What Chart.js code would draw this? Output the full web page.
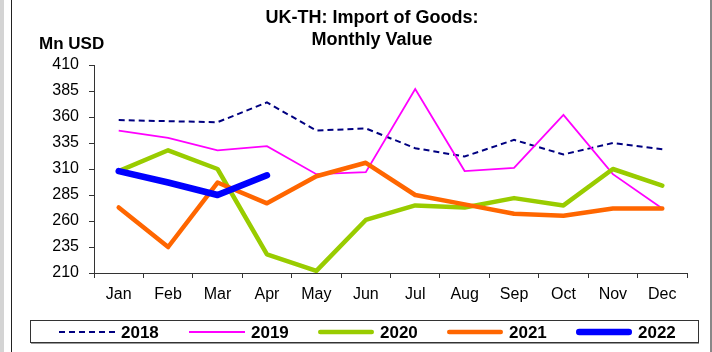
<!DOCTYPE html>
<html>
<head>
<meta charset="utf-8">
<script src="https://cdn.jsdelivr.net/npm/chart.js@4/dist/chart.umd.min.js"></script>
<style>
  html, body { margin: 0; padding: 0; background: #fff; }
  #wrap { width: 712px; height: 352px; position: relative; }
</style>
</head>
<body>
<div id="wrap"><canvas id="chart1" width="712" height="352"></canvas></div>
<script>
// monthly import values, Mn USD
const months = ['Jan', 'Feb', 'Mar', 'Apr', 'May', 'Jun', 'Jul', 'Aug', 'Sep', 'Oct', 'Nov', 'Dec'];
const yTicks = [210, 235, 260, 285, 310, 335, 360, 385, 410];

const v2018 = [357, 356, 355, 374, 347, 349, 330, 322, 338, 324, 335, 329];
const v2019 = [347, 340, 328, 332, 305, 307, 387, 308, 311, 362, 305, 272];
const v2020 = [308, 328, 310, 228, 212, 261, 275, 273, 282, 275, 310, 294];
const v2021 = [273, 235, 297, 277, 303, 316, 285, 276, 267, 265, 272, 272];
const v2022 = [308, 297, 285, 304];

const seriesNames = ['2018', '2019', '2020', '2021', '2022'];
const seriesColors = ['#000080', '#ff00ff', '#99cc00', '#ff6600', '#0000ff'];
const seriesWidths = [2, 1.8, 4.5, 4.5, 6.5];
const seriesDash = [[6, 4], [], [], [], []];
const seriesValues = [v2018, v2019, v2020, v2021, v2022];

let dataSets = [];
for (let i = 0; i < seriesNames.length; i++) {
  dataSets.push({
    label: seriesNames[i],
    data: seriesValues[i],
    borderColor: seriesColors[i],
    backgroundColor: seriesColors[i],
    borderWidth: seriesWidths[i],
    borderDash: seriesDash[i],
    borderCapStyle: i >= 2 ? 'round' : 'butt',
    borderJoinStyle: i >= 2 ? 'round' : 'miter',
    pointRadius: 0,
    tension: 0,
    order: seriesNames.length - i
  });
}

// title, unit label, legend box and page frame
const decorations = {
  id: 'decorations',
  beforeDraw(chart) {
    const ctx = chart.ctx;
    ctx.save();
    ctx.fillStyle = '#fff';
    ctx.fillRect(0, 0, chart.width, chart.height);
    ctx.restore();
  },
  afterDraw(chart) {
    const ctx = chart.ctx;
    ctx.save();

    // frame
    ctx.fillStyle = '#d4d4d4';
    ctx.fillRect(0, 0, 4, 352);
    ctx.fillStyle = '#222';
    ctx.fillRect(11, 0, 1, 352);
    ctx.fillStyle = '#888';
    ctx.fillRect(710, 0, 2, 352);

    // title
    ctx.fillStyle = '#000';
    ctx.textAlign = 'center';
    ctx.textBaseline = 'middle';
    ctx.font = 'bold 18px "Liberation Sans", Arial, sans-serif';
    ctx.fillText('UK-TH: Import of Goods:', 372, 18);
    ctx.fillText('Monthly Value', 372, 40);

    ctx.textAlign = 'left';
    ctx.font = 'bold 17px "Liberation Sans", Arial, sans-serif';
    ctx.fillText('Mn USD', 39, 44);

    // legend
    ctx.strokeStyle = '#333';
    ctx.lineWidth = 1;
    ctx.strokeRect(30.5, 320.5, 668, 22);
    ctx.fillStyle = '#999';
    ctx.fillRect(31, 343, 668, 1);
    const ly = 332;
    const lineStarts = [59, 189, 318, 447, 576];
    for (let i = 0; i < seriesNames.length; i++) {
      const x0 = lineStarts[i];
      ctx.beginPath();
      ctx.strokeStyle = seriesColors[i];
      ctx.lineWidth = seriesWidths[i];
      ctx.setLineDash(seriesDash[i]);
      ctx.lineCap = i >= 2 ? 'round' : 'butt';
      const pad = i >= 2 ? seriesWidths[i] / 2 : 0;
      ctx.moveTo(x0 + pad, ly);
      ctx.lineTo(x0 + 56 - pad, ly);
      ctx.stroke();
      ctx.setLineDash([]);
      ctx.fillStyle = '#000';
      ctx.font = 'bold 17px "Liberation Sans", Arial, sans-serif';
      ctx.fillText(seriesNames[i], x0 + 62, ly + 1);
    }
    ctx.restore();
  }
};

const config = {
  type: 'line',
  data: {
    labels: months,
    datasets: dataSets
  },
  options: {
    responsive: false,
    animation: false,
    layout: { padding: { left: 0, right: 25, top: 65, bottom: 0 } },
    plugins: {
      legend: { display: false },
      title: { display: false },
      tooltip: { enabled: false }
    },
    scales: {
      x: {
        offset: true,
        afterFit: (s) => { s.height = 79; },
        grid: { offset: true, drawOnChartArea: false, drawTicks: true, tickLength: 5, color: '#333' },
        border: { color: '#333', width: 1 },
        ticks: {
          color: '#000',
          padding: 7,
          maxRotation: 0,
          autoSkip: false,
          font: { family: '"Liberation Sans", Arial, sans-serif', size: 16 }
        }
      },
      y: {
        min: yTicks[0],
        max: yTicks[yTicks.length - 1],
        afterFit: (s) => { s.width = 94; },
        afterBuildTicks: (s) => { s.ticks = yTicks.map(v => ({ value: v })); },
        grid: { drawOnChartArea: false, drawTicks: true, tickLength: 5, color: '#333' },
        border: { color: '#333', width: 1 },
        ticks: {
          color: '#000',
          padding: 10,
          font: { family: '"Liberation Sans", Arial, sans-serif', size: 16 }
        }
      }
    }
  },
  plugins: [decorations]
};

const myChart = new Chart(document.getElementById('chart1'), config);
</script>
</body>
</html>
